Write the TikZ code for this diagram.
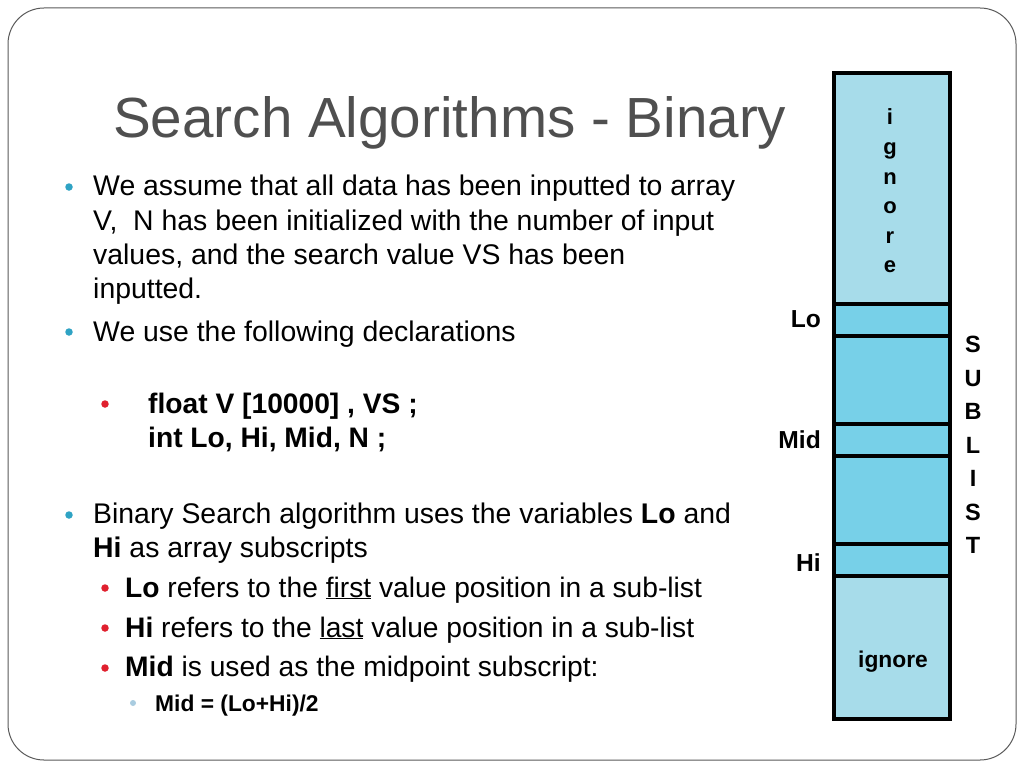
\documentclass[tikz,border=0pt]{standalone}
\usepackage{fontspec}
\setmainfont{Liberation Sans}
\definecolor{titlegray}{HTML}{4F4F4F}
\definecolor{framegray}{HTML}{5A5A5A}
\definecolor{lightcell}{HTML}{A7DCEA}
\definecolor{darkcell}{HTML}{77D0E8}
\definecolor{bulcyan}{HTML}{2FA3C4}
\definecolor{bulred}{HTML}{E0202E}
\definecolor{bullight}{HTML}{A9CCE0}
\begin{document}
\begin{tikzpicture}[x=1pt,y=-1pt,
  body/.style={anchor=base west, inner sep=0pt, font=\fontsize{28.4}{34}\selectfont},
  subtxt/.style={anchor=base west, inner sep=0pt, font=\fontsize{28.2}{34}\selectfont},
  decl/.style={anchor=base west, inner sep=0pt, font=\fontsize{28.2}{34}\selectfont\bfseries},
  subsub/.style={anchor=base west, inner sep=0pt, font=\fontsize{22.8}{27}\selectfont\bfseries},
  lab/.style={anchor=base east, inner sep=0pt, font=\fontsize{24.6}{29}\selectfont\bfseries},
  cell/.style={draw=black, line width=4pt, inner sep=0pt, outer sep=0pt, minimum width=116pt},
  dot/.style={circle, inner sep=0pt, minimum size=7.5pt}
]
\useasboundingbox (0,0) rectangle (1024,768);
\fill[white] (0,0) rectangle (1024,768);
% frame
\draw[framegray, line width=1pt, rounded corners=36pt] (8,8) rectangle (1016,760);
% title
\node[anchor=base west, inner sep=0pt, text=titlegray, font=\fontsize{56.6}{60}\selectfont] (title) at (113,137) {Search Algorithms - Binary};
% array column
\node[cell, fill=lightcell, minimum height=231pt] (ign1) at (892,188.5) {};
\node[cell, fill=darkcell, minimum height=32pt] (lo) at (892,320) {};
\node[cell, fill=darkcell, minimum height=88pt] (g1) at (892,380) {};
\node[cell, fill=darkcell, minimum height=32pt] (mid) at (892,440) {};
\node[cell, fill=darkcell, minimum height=88pt] (g2) at (892,500) {};
\node[cell, fill=darkcell, minimum height=32pt] (hi) at (892,560) {};
\node[cell, fill=lightcell, minimum height=143pt] (ign2) at (892,647.5) {};
\node[inner sep=0pt, align=center, font=\fontsize{22}{29.6}\selectfont\bfseries] (igntxt) at (890,191) {i\\g\\n\\o\\r\\e};
\node[anchor=base, inner sep=0pt, font=\fontsize{22.8}{27}\selectfont\bfseries] (igntxt2) at (893,667) {ignore};
\node[lab] (lolab) at (821,327) {Lo};
\node[lab] (midlab) at (821,448) {Mid};
\node[lab] (hilab) at (821,571) {Hi};
\node[inner sep=0pt, align=center, font=\fontsize{23.5}{33.5}\selectfont\bfseries] (sublist) at (973,445) {S\\U\\B\\L\\I\\S\\T};
% bullets
\node[dot, fill=bulcyan] (d1) at (69,187) {};
\node[body] (b1a) at (93,195) {We assume that all data has been inputted to array};
\node[body] (b1b) at (93,230) {V, \ N has been initialized with the number of input};
\node[body] (b1c) at (93,264) {values, and the search value VS has been};
\node[body] (b1d) at (93,298) {inputted.};
\node[dot, fill=bulcyan] (d2) at (69,332) {};
\node[body] (b2) at (93,341) {We use the following declarations};
\node[dot, fill=bulred] (d3) at (105,404) {};
\node[decl] (c1) at (148,413) {float V [10000] , VS ;};
\node[decl] (c2) at (148,447) {int Lo, Hi, Mid, N ;};
\node[dot, fill=bulcyan] (d4) at (69,515) {};
\node[body] (b3a) at (93,523) {Binary Search algorithm uses the variables \textbf{Lo} and};
\node[body] (b3b) at (93,557) {\textbf{Hi} as array subscripts};
\node[dot, fill=bulred] (d5) at (105,588) {};
\node[subtxt] (s1) at (125,597) {\textbf{Lo} refers to the \underline{first} value position in a sub-list};
\node[dot, fill=bulred] (d6) at (105,628) {};
\node[subtxt] (s2) at (125,637) {\textbf{Hi} refers to the \underline{last} value position in a sub-list};
\node[dot, fill=bulred] (d7) at (105,668) {};
\node[subtxt] (s3) at (125,676) {\textbf{Mid} is used as the midpoint subscript:};
\node[dot, fill=bullight, minimum size=6pt] (d8) at (133,703) {};
\node[subsub] (ss1) at (155,711) {Mid = (Lo+Hi)/2};
\end{tikzpicture}
\end{document}
